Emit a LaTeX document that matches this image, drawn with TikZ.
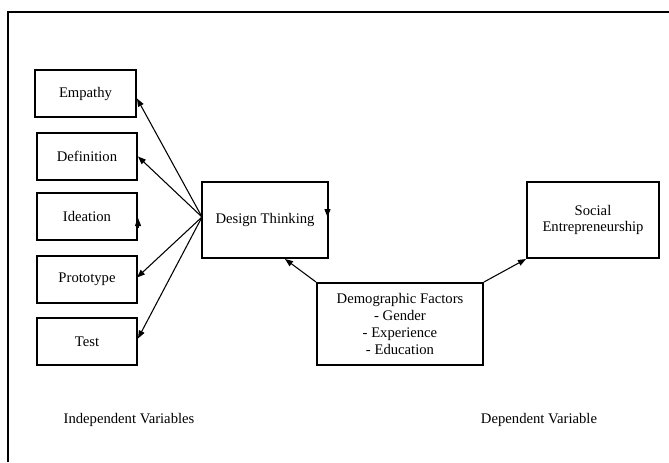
\documentclass[tikz,border=0pt]{standalone}
\usepackage{fontspec}
\setmainfont{Liberation Serif}
\usetikzlibrary{arrows.meta,calc}
\begin{document}
\begin{tikzpicture}[x=0.75pt,y=-0.75pt,
  box/.style={draw,line width=1.5pt,inner sep=0pt,align=center,font=\fontsize{11}{12.6}\selectfont},
  arr/.style={line width=0.8pt,-{Triangle[length=6pt,width=4.5pt]}},
  lbl/.style={font=\fontsize{11}{12.6}\selectfont,inner sep=0pt}]
\useasboundingbox (0,0) rectangle (669,462);
\draw[line width=1pt] (8,462) -- (8,12) -- (669,12);
\node[box,minimum width=75.75pt,minimum height=35.25pt] (emp) at (85.5,93.5) {Empathy};
\node[box,minimum width=75pt,minimum height=35.25pt] (def) at (87,156.5) {Definition};
\node[box,minimum width=75pt,minimum height=35.25pt] (ide) at (87,216.5) {Ideation};
\node[box,minimum width=75pt,minimum height=35.25pt] (pro) at (87,279.5) {Prototype};
\node[box,minimum width=75pt,minimum height=35.25pt] (tst) at (87,341.5) {Test};
\node[box,minimum width=94.5pt,minimum height=57pt] (dt) at (265,220) {Design Thinking};
\node[box,minimum width=124.5pt,minimum height=61.5pt] (dem) at (400,324) {Demographic Factors\\- Gender\\- Experience\\- Education};
\node[box,minimum width=99pt,minimum height=57pt] (soc) at (593,220) {Social\\Entrepreneurship};
\node[lbl] (iv) at (129,420) {Independent Variables};
\node[lbl] (dv) at (539,420) {Dependent Variable};
\coordinate (o) at ($(dt.west)+(1,-3)$);
\draw[arr] (o) -- ($(emp.east)+(0,5)$);
\draw[arr] (o) -- (def.east);
\draw[arr] (o) -- ($(pro.east)+(-1,-2)$);
\draw[arr] (o) -- ($(tst.east)+(0,-3)$);
\draw[arr] ($(ide.east)+(0,11)$) -- ($(ide.east)+(0,1.5)$);
\draw[arr] ($(dt.east)+(-1.5,-12)$) -- ($(dt.east)+(-1.5,-3)$);
\draw[arr] (dem.north west) -- ($(dt.south)+(20,0)$);
\draw[arr] (dem.north east) -- (soc.south west);
\end{tikzpicture}
\end{document}
